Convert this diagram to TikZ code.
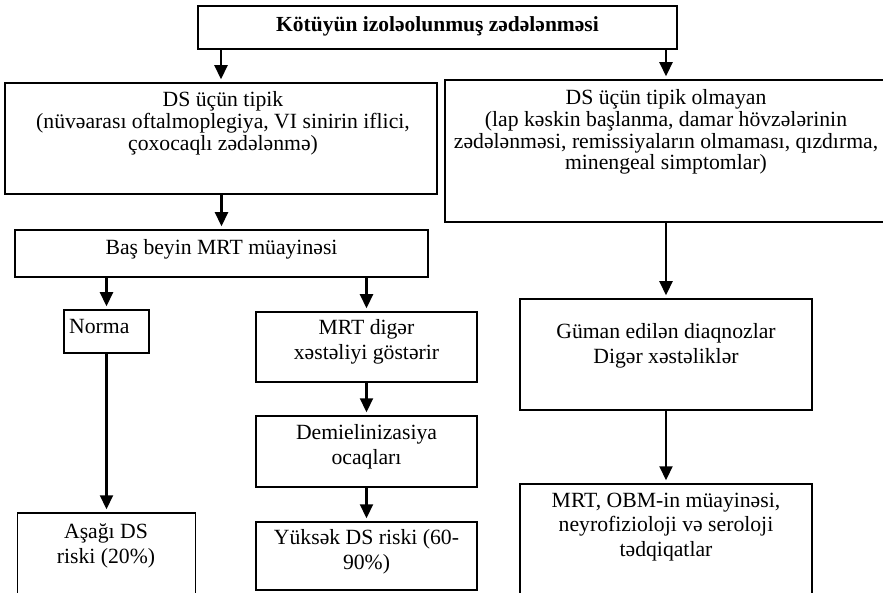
\documentclass[tikz,border=0pt]{standalone}
\usepackage{fontspec}
\setmainfont{Liberation Serif}
\usetikzlibrary{arrows.meta}
\begin{document}
\begin{tikzpicture}[x=1pt,y=-1pt,
  box/.style={draw, line width=1.5pt, inner sep=0pt, minimum width=#1},
  txt/.style={inner sep=0pt, anchor=north, align=center, font=\fontsize{21.7}{21.7}\selectfont},
  txtb/.style={inner sep=0pt, anchor=north, align=center, font=\fontsize{21.7}{24.5}\selectfont},
  arr/.style={line width=2.2pt, -{Triangle[width=13pt,length=14pt]}, shorten >=3pt}]
\useasboundingbox (0,0) rectangle (883,593);
\clip (0,0) rectangle (883,593);
% boxes
\node[box=479pt, minimum height=43pt] (title) at (437.5,27.5) {};
\node[box=432pt, minimum height=111pt] (l1) at (221,138.5) {};
\node[box=442pt, minimum height=142pt] (r1) at (666,151) {};
\node[box=413pt, minimum height=47pt] (mrt) at (221.5,253.5) {};
\node[box=85pt, minimum height=43pt] (norma) at (106.5,331.5) {};
\node[box=178pt, minimum height=107pt] (asagi) at (106.5,566.5) {};
\node[box=221pt, minimum height=70pt] (mrtd) at (366.5,347) {};
\node[box=221pt, minimum height=71pt] (demi) at (366.5,451.5) {};
\node[box=221pt, minimum height=68pt] (yuksek) at (366.5,556) {};
\node[box=292pt, minimum height=111pt] (guman) at (666,354.5) {};
\node[box=292pt, minimum height=136pt] (obm) at (666,552) {};
% texts
\node[txt, font=\fontsize{21.5}{21.7}\selectfont\bfseries] (ttitle) at (437.5,16.5) {Kötüyün izoləolunmuş zədələnməsi};
\node[txt] (tl1) at (223,91.5) {DS üçün tipik\\(nüvəarası oftalmoplegiya, VI sinirin iflici,\\çoxocaqlı zədələnmə)};
\node[txt] (tr1) at (666,89.5) {DS üçün tipik olmayan\\(lap kəskin başlanma, damar hövzələrinin\\zədələnməsi, remissiyaların olmaması, qızdırma,\\minengeal simptomlar)};
\node[txt] (tmrt) at (221.5,239.5) {Baş beyin MRT müayinəsi};
\node[txt, anchor=north west] (tnorma) at (69,319.5) {Norma};
\node[txtb] (tasagi) at (106,523.5) {Aşağı DS\\riski (20\%)};
\node[txtb] (tmrtd) at (366.5,319.5) {MRT digər\\xəstəliyi göstərir};
\node[txtb] (tdemi) at (366.5,424.5) {Demielinizasiya\\ocaqları};
\node[txtb] (tyuksek) at (366.5,529.5) {Yüksək DS riski (60-\\90\%)};
\node[txtb] (tguman) at (666,323.5) {Güman edilən diaqnozlar\\Digər xəstəliklər};
\node[txtb] (tobm) at (666,492.5) {MRT, OBM-in müayinəsi,\\neyrofizioloji və seroloji\\tədqiqatlar};
% arrows
\draw[arr] (title.south -| l1.north) -- (l1.north);
\draw[arr] (title.south -| r1.north) -- (r1.north);
\draw[arr] (l1.south -| mrt.north) -- (mrt.north);
\draw[arr] (mrt.south -| norma.north) -- (norma.north);
\draw[arr] (norma.south) -- (asagi.north);
\draw[arr] (mrt.south -| mrtd.north) -- (mrtd.north);
\draw[arr] (mrtd.south) -- (demi.north);
\draw[arr] (demi.south) -- (yuksek.north);
\draw[arr] (r1.south -| guman.north) -- (guman.north);
\draw[arr] (guman.south) -- (obm.north);
\end{tikzpicture}
\end{document}
